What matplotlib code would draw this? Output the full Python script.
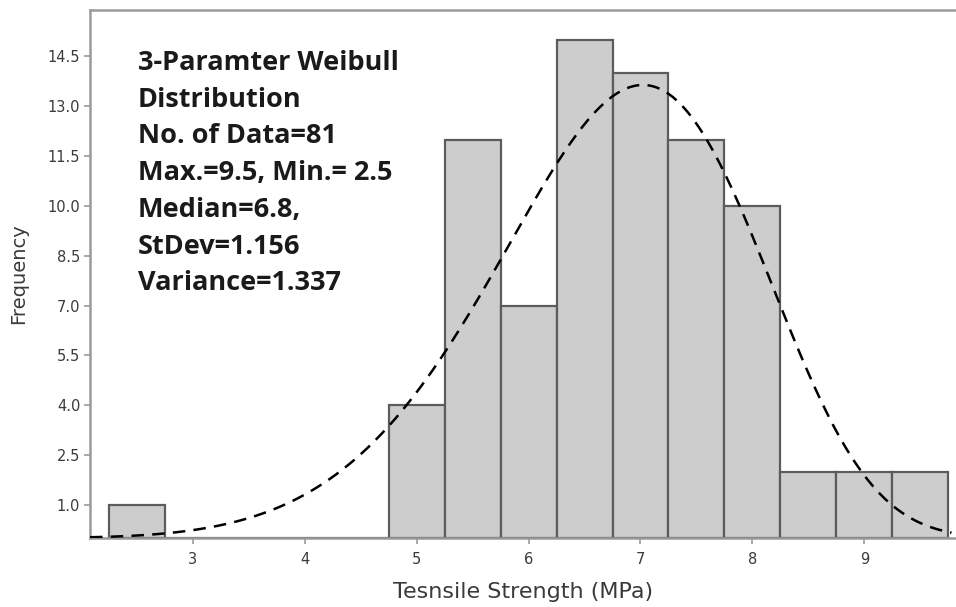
import numpy as np
import matplotlib
matplotlib.use("Agg")
import matplotlib.pyplot as plt

# Histogram of tensile strength (bin centres, MPa) and counts per bin
bin_centers = [2.5, 3.0, 3.5, 4.0, 4.5, 5.0, 5.5, 6.0, 6.5, 7.0, 7.5, 8.0, 8.5, 9.0, 9.5]
counts = [1, 0, 0, 0, 0, 4, 12, 7, 15, 14, 12, 10, 2, 2, 2]
bin_width = 0.5

# Fitted 3-parameter Weibull (shape, scale, threshold)
wb_shape = 6.0
wb_scale = 6.65
wb_threshold = 0.57
n_data = 81

y_ticks = [1.0, 2.5, 4.0, 5.5, 7.0, 8.5, 10.0, 11.5, 13.0, 14.5]
x_ticks = [3, 4, 5, 6, 7, 8, 9]

info_lines = [
    "3-Paramter Weibull",
    "Distribution",
    "No. of Data=81",
    "Max.=9.5, Min.= 2.5",
    "Median=6.8,",
    "StDev=1.156",
    "Variance=1.337",
]


def weibull_pdf(x, k, lam, theta):
    z = np.clip((x - theta) / lam, 0, None)
    return (k / lam) * z ** (k - 1) * np.exp(-z ** k)


W, H = 956, 607
fig = plt.figure(figsize=(W / 100, H / 100), dpi=100)
ax_left, ax_bottom, ax_top = 90, 538, 10
ax = fig.add_axes([ax_left / W, (H - ax_bottom) / H, 1 - ax_left / W,
                   (ax_bottom - ax_top) / H])

ax.bar(bin_centers, counts, width=bin_width, color="#cdcdcd",
       edgecolor="#5c5c5c", linewidth=1.6, zorder=2)

x_lo, x_hi = 2.08, 9.82
xs = np.linspace(x_lo, 9.78, 400)
ys = weibull_pdf(xs, wb_shape, wb_scale, wb_threshold) * n_data * bin_width
ax.plot(xs, ys, color="black", linewidth=1.8, linestyle=(0, (5, 3.3)), zorder=3)

ax.set_xlim(x_lo, x_hi)
ax.set_ylim(0, 15.9)
ax.set_xticks(x_ticks)
ax.set_xticklabels([str(t) for t in x_ticks])
ax.set_yticks(y_ticks)
ax.set_yticklabels([f"{t:.1f}" for t in y_ticks])

for side in ("left", "bottom", "top"):
    ax.spines[side].set_color("#9a9a9a")
    ax.spines[side].set_linewidth(1.8)
ax.spines["right"].set_visible(False)

ax.tick_params(axis="both", colors="#9a9a9a", length=4, width=1.2,
               labelcolor="#3a3a3a", labelsize=10.5)
ax.tick_params(axis="x", pad=6)
ax.tick_params(axis="y", pad=3)

ax.set_xlabel("Tesnsile Strength (MPa)", fontsize=16, color="#3a3a3a", labelpad=11)
ax.set_ylabel("Frequency", fontsize=14, color="#3a3a3a", labelpad=14)

# Summary statistics block, one baseline per line
text_x = (138 - ax_left) / (W - ax_left)
first_baseline, line_step = 70, 36.7
for i, line in enumerate(info_lines):
    base = first_baseline + i * line_step
    ax.text(text_x, (ax_bottom - base) / (ax_bottom - ax_top), line,
            transform=ax.transAxes, ha="left", va="baseline",
            fontsize=19.5, fontweight="bold", family="Open Sans",
            color="#1a1a1a", zorder=4)

fig.savefig("out.png", dpi=100)
